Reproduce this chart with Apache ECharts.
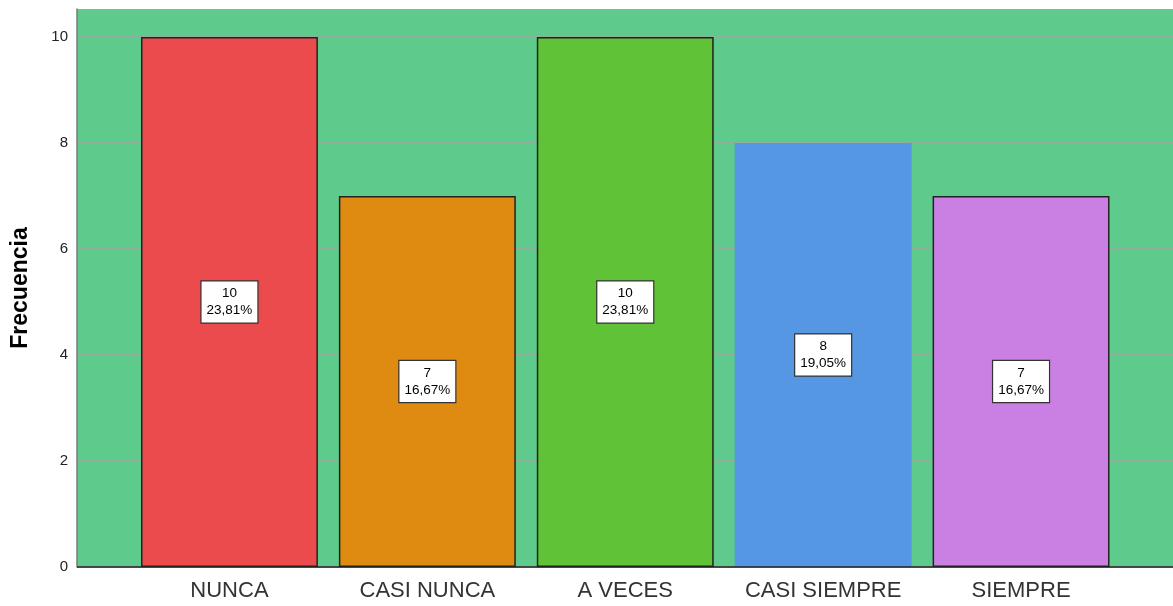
<!DOCTYPE html>
<html><head><meta charset="utf-8">
<script src="https://cdn.jsdelivr.net/npm/echarts@6/dist/echarts.min.js"></script>
<style>html,body{margin:0;padding:0;background:#fff}#c{width:1173px;height:606px}</style>
</head><body><div id="c"></div>
<script>
const categories = ['NUNCA', 'CASI NUNCA', 'A VECES', 'CASI SIEMPRE', 'SIEMPRE'];
const counts = [10, 7, 10, 8, 7];
const percents = ['23,81%', '16,67%', '23,81%', '19,05%', '16,67%'];
const yTicks = [0, 2, 4, 6, 8, 10];
const barColors = ['#ec4b4e', '#df8a10', '#5fc237', '#5597e3', '#ca80e3'];
const borderWidths = [1.5, 1.5, 1.5, 0, 1.5];

const chart = echarts.init(document.getElementById('c'));
const yMax = 10.528;
chart.setOption({
  animation: false,
  grid: [
    {left: 77, right: 0, top: 9, bottom: 39, show: true, backgroundColor: '#5ecb8c', borderWidth: 0,
     containLabel: false, outerBoundsMode: 'none'},
    {left: 130.5, right: 53, top: 9, bottom: 39, containLabel: false, outerBoundsMode: 'none'}
  ],
  xAxis: [
    {type: 'category', gridIndex: 0, data: [''], show: false},
    {type: 'category', gridIndex: 1, data: categories,
     axisLine: {show: false}, axisTick: {show: false},
     axisLabel: {interval: 0, hideOverlap: false, fontFamily: 'Liberation Sans, Arial', fontSize: 22, color: '#333', margin: 13}}
  ],
  yAxis: [
    {type: 'value', gridIndex: 0, min: 0, max: yMax, interval: 2,
     name: 'Frecuencia', nameLocation: 'middle', nameGap: 45,
     nameTextStyle: {fontFamily: 'Liberation Sans, Arial', fontSize: 23, fontWeight: 'bold', color: '#000'},
     axisLine: {show: true, lineStyle: {color: '#7a7a7a', width: 1.5}},
     axisTick: {show: false},
     axisLabel: {showMaxLabel: false, fontFamily: 'Liberation Sans, Arial', fontSize: 15, color: '#222', margin: 9,
       formatter: v => yTicks.includes(v) ? String(v) : ''},
     splitLine: {show: true, showMaxLine: false, lineStyle: {color: '#a0a4a0', width: 1.5, opacity: 1}}},
    {type: 'value', gridIndex: 1, min: 0, max: yMax, show: false, splitLine: {show: false}}
  ],
  series: [
    {type: 'line', xAxisIndex: 0, yAxisIndex: 0, data: [], silent: true,
     markLine: {symbol: 'none', silent: true, label: {show: false},
       lineStyle: {color: '#222', width: 1.5, type: 'solid'}, data: [{yAxis: 0}]}},
    {type: 'bar', xAxisIndex: 1, yAxisIndex: 1, barCategoryGap: '10.6%',
     data: counts.map((v, i) => ({value: v, itemStyle: {color: barColors[i], borderColor: '#222', borderWidth: borderWidths[i]}})),
     label: {show: true, position: 'inside',
       formatter: p => p.value + '\n' + percents[p.dataIndex],
       fontFamily: 'Liberation Sans, Arial', fontSize: 13.5, color: '#000', lineHeight: 17,
       backgroundColor: '#fff', borderColor: '#333', borderWidth: 1.2, padding: [4, 5, 3, 5]}}
  ]
});
</script></body></html>
